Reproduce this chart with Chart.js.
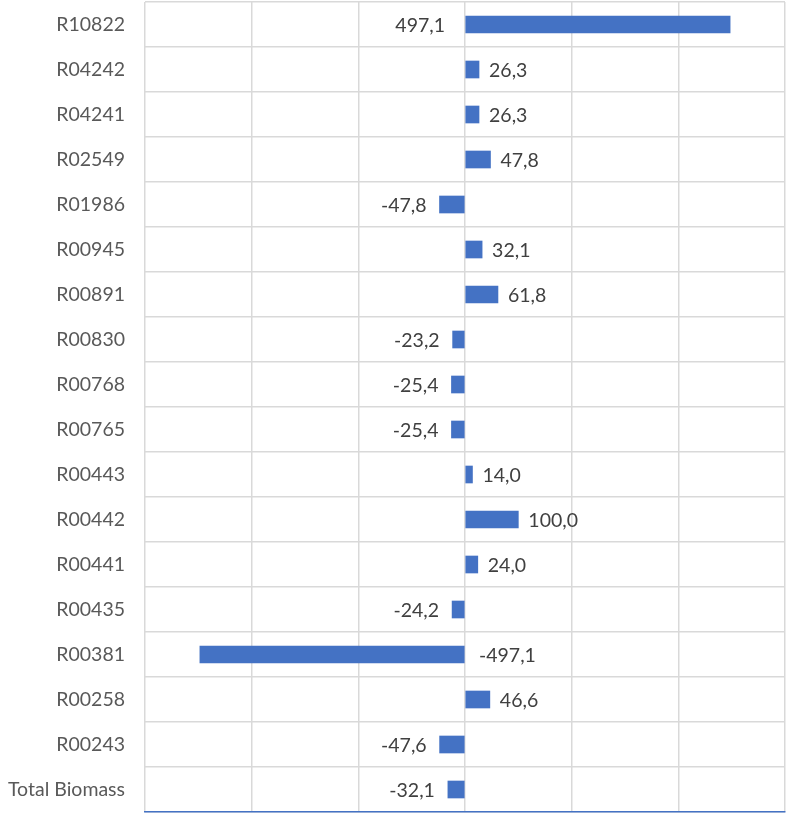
<!DOCTYPE html>
<html><head><meta charset="utf-8">
<script src="https://cdn.jsdelivr.net/npm/chart.js@4"></script>
<style>html,body{margin:0;padding:0;background:#fff}#wrap{width:787px;height:814px}</style>
</head><body><div id="wrap"><canvas id="c"></canvas></div>
<script>
const categories = ["R10822","R04242","R04241","R02549","R01986","R00945","R00891","R00830","R00768","R00765","R00443","R00442","R00441","R00435","R00381","R00258","R00243","Total Biomass"];
const values = [497.1,26.3,26.3,47.8,-47.8,32.1,61.8,-23.2,-25.4,-25.4,14.0,100.0,24.0,-24.2,-497.1,46.6,-47.6,-32.1];
const xMin = -600, xMax = 600, xStep = 200;

const labelPlugin = {
  id: 'vals',
  afterDatasetsDraw(chart) {
    const ctx = chart.ctx;
    const meta = chart.getDatasetMeta(0);
    const xs = chart.scales.x;
    const zero = xs.getPixelForValue(0);
    ctx.save();
    ctx.font = '19.5px Lato';
    ctx.fillStyle = '#404040';
    ctx.textBaseline = 'middle';
    meta.data.forEach((bar, i) => {
      const v = values[i];
      const txt = v.toFixed(1).replace('.', ',');
      let x, align;
      const big = Math.abs(v) > 400;
      if ((v >= 0) !== big) {
        align = 'left';
        x = (big ? zero : bar.x) + (big ? 14 : 10);
      } else {
        align = 'right';
        x = (big ? zero : bar.x) - (big ? 20 : 13);
      }
      ctx.textAlign = align;
      ctx.fillText(txt, x, bar.y + 1);
    });
    ctx.restore();
  }
};

new Chart(document.getElementById('c'), {
  type: 'bar',
  data: { labels: categories, datasets: [{ data: values, backgroundColor: '#4472C4', barThickness: 17 }] },
  options: {
    indexAxis: 'y',
    responsive: true, maintainAspectRatio: false, animation: false,
    layout: { padding: { top: 2, right: 2, bottom: 2, left: 0 } },
    plugins: { legend: { display: false }, tooltip: { enabled: false } },
    scales: {
      x: {
        min: xMin, max: xMax,
        ticks: { display: false, stepSize: xStep },
        grid: { color: '#D9D9D9', lineWidth: 1.5, drawTicks: false },
        border: { display: true, color: '#4472C4', width: 1.5 },
        afterFit(scale) { scale.height = 0; scale.paddingLeft = 0; scale.paddingRight = 0; }
      },
      y: {
        ticks: { color: '#595959', font: { family: 'Lato', size: 19.5 }, padding: 20 },
        grid: { color: '#D9D9D9', lineWidth: 1.5, drawTicks: false, offset: true },
        border: { display: false },
        afterFit(scale) { scale.width = 145; scale.paddingTop = 0; scale.paddingBottom = 0; }
      }
    }
  },
  plugins: [labelPlugin]
});
</script></body></html>
